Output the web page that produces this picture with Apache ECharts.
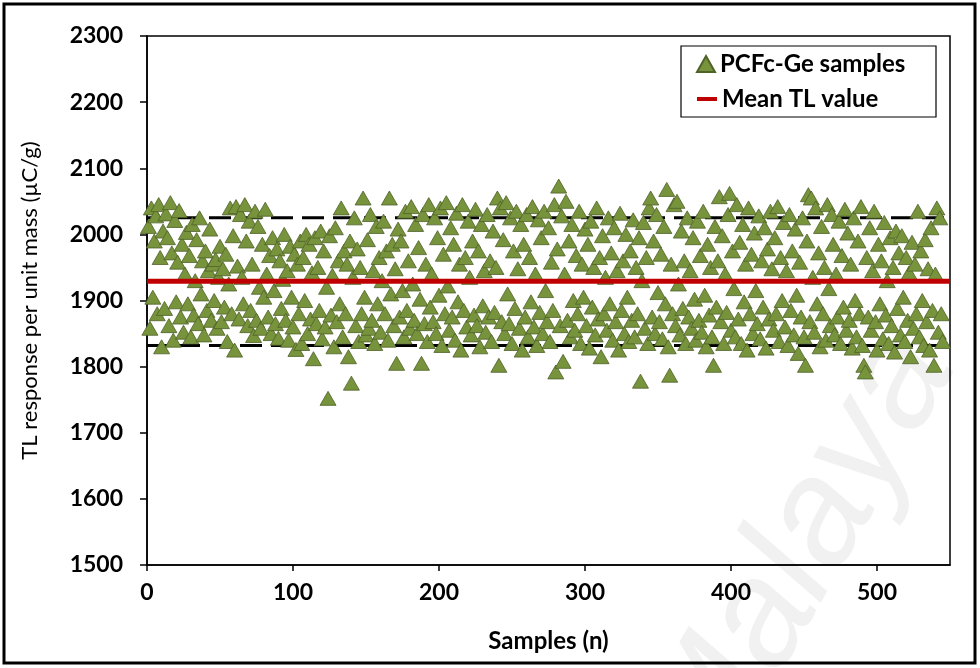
<!DOCTYPE html>
<html>
<head>
<meta charset="utf-8">
<script src="https://cdn.jsdelivr.net/npm/echarts@6/dist/echarts.min.js"></script>
<style>
  html, body { margin: 0; padding: 0; background: #fff; }
  #chart { width: 980px; height: 668px; }
</style>
</head>
<body>
<div id="chart"></div>
<script>
// TL response per sample (µC/g), samples 1..545
var tlValues = [
  2012, 1858, 2040, 1905, 1990, 2028, 1880, 2045, 1965, 1830, 2005, 1888, 2031, 1995, 1862,
  2048, 1972, 1840, 2021, 1898, 1958, 2036, 1875, 1985, 1852, 1940, 2003, 1895, 1968, 1845,
  2015, 1878, 1930, 1992, 1865, 2025, 1910, 1960, 1848, 1975, 1885, 1945, 2008, 1870, 1955,
  1900, 1962, 1858, 1935, 1982, 1868, 1948, 1890, 1970, 1838, 1925, 2040, 1880, 1998, 1825,
  2042, 1952, 1872, 2030, 1935, 1895, 2045, 1990, 1862, 2020, 1885, 1955, 1847, 2035, 1870,
  2012, 1920, 1858, 1985, 1905, 2038, 1940, 1875, 1968, 1850, 1995, 1915, 1865, 1978, 1843,
  1960, 1888, 1932, 2000, 1870, 1945, 1840, 1982, 1905, 1860, 1970, 1826, 1955, 1880, 1990,
  1835, 1965, 1900, 2000, 1850, 1985, 1872, 1942, 1812, 1995, 1865, 1950, 1885, 2005, 1842,
  1975, 1860, 1920, 1752, 1998, 1878, 1938, 1830, 2010, 1868, 1960, 1895, 2040, 1845, 1975,
  1880, 1955, 1815, 1990, 1775, 1935, 2025, 1862, 1978, 1838, 1950, 1880, 2055, 1905, 1848,
  1992, 1858, 2030, 1870, 1945, 1835, 2012, 1895, 1965, 1852, 1930, 2020, 1880, 1975, 1840,
  2055, 1910, 1985, 1862, 1948, 1805, 2008, 1875, 1990, 1915, 1845, 2035, 1885, 1960, 1858,
  2042, 1925, 1870, 2015, 1850, 1980, 1902, 1805, 2030, 1865, 1955, 1838, 2045, 1890, 1940,
  1868, 2025, 1850, 1995, 1908, 2040, 1832, 1970, 1880, 2048, 1922, 1855, 2010, 1875, 1985,
  1840, 2032, 1898, 1955, 1825, 2045, 1885, 1965, 1860, 2020, 1935, 1848, 1990, 1878, 2038,
  1862, 1975, 1830, 2015, 1892, 1945, 1852, 2030, 1875, 1960, 1838, 2005, 1882, 1950, 2055,
  1802, 2040, 1868, 1992, 1850, 2048, 1910, 1865, 2025, 1835, 1975, 1888, 2035, 1948, 1858,
  2015, 1825, 1985, 1875, 2030, 1845, 1965, 1898, 2042, 1860, 1940, 1832, 2022, 1882, 1995,
  1850, 2035, 1915, 1868, 2010, 1838, 1958, 1885, 2045, 1792, 1978, 2073, 1862, 2028, 1808,
  1940, 2050, 1870, 1990, 1845, 2015, 1900, 1855, 1968, 1880, 2035, 1835, 1955, 1905, 2008,
  1862, 1985, 1828, 2020, 1890, 1950, 1848, 2040, 1872, 1965, 1815, 1998, 1880, 1935, 1855,
  2025, 1895, 1972, 1840, 2010, 1868, 1945, 1825, 2032, 1885, 1960, 1850, 2000, 1905, 1838,
  1975, 1870, 2022, 1845, 1950, 1880, 1995, 1778, 1930, 2018, 1858, 1965, 1835, 2040, 2055,
  1875, 1990, 1850, 2030, 1912, 1868, 1970, 1842, 2012, 1895, 2068, 1830, 1787, 1955, 1880,
  2045, 1862, 2050, 1925, 1848, 2005, 1888, 1960, 1835, 2025, 1875, 1945, 1858, 1995, 1902,
  1840, 2020, 1870, 1968, 1852, 2035, 1908, 1830, 1985, 1878, 1950, 1845, 1802, 2012, 1890,
  1960, 2057, 1868, 1998, 1835, 1940, 1882, 2030, 2062, 1855, 1975, 1918, 1845, 2045, 1872,
  1988, 1835, 2015, 1898, 1955, 1825, 2040, 1880, 1970, 1850, 2002, 1915, 1865, 2028, 1842,
  1960, 1890, 2010, 1828, 1978, 1872, 2035, 1948, 1855, 1995, 1880, 2042, 1838, 1965, 1900,
  2018, 1860, 1945, 1832, 2030, 1885, 1975, 1848, 2008, 1908, 1820, 1958, 1875, 2025, 1845,
  1802, 1990, 2060, 1868, 2055, 1935, 1852, 2040, 1895, 1972, 1830, 2012, 1880, 1950, 1840,
  2045, 1918, 1862, 2030, 1985, 1848, 1940, 1875, 2020, 1835, 1968, 1890, 2038, 1855, 2002,
  1870, 1955, 1828, 2025, 1900, 1845, 1990, 1880, 2042, 1832, 1802, 1792, 1965, 1875, 2010,
  1855, 1945, 2035, 1868, 1825, 1985, 1895, 1960, 1842, 2018, 1878, 1930, 1835, 1995, 1862,
  1950, 1822, 2005, 1888, 1972, 1848, 1998, 1905, 1838, 1965, 1870, 1942, 1815, 1988, 1858,
  1955, 1880, 2035, 1845, 1975, 1900, 1832, 1992, 1868, 1948, 1825, 2010, 1885, 1802, 1940,
  2040, 1852, 2025, 1880, 1838
];

var meanValue = 1929;
var upperLimit = 2025;   // mean + 5%
var lowerLimit = 1832;   // mean - 5%
var xRange = [0, 550];
var yRange = [1500, 2300];

var samplePoints = tlValues.map(function (v, i) { return [i + 1, v]; });

var chart = echarts.init(document.getElementById('chart'));

var font = 'Lato, "Open Sans", sans-serif';
var legendText = { fontFamily: font, fontWeight: 'bold', fontSize: 24, color: '#000' };

chart.setOption({
  animation: false,
  backgroundColor: '#fff',
  grid: {
    left: 147, right: 30, top: 36, bottom: 103,
    show: true, borderColor: '#000', borderWidth: 1.5
  },
  // two legends so each icon can have its own size; the box is drawn in graphic
  legend: [
    {
      left: 696, top: 52, padding: 0,
      itemWidth: 18, itemHeight: 16, itemGap: 6,
      textStyle: legendText,
      data: [{ name: 'PCFc-Ge samples', icon: 'triangle' }]
    },
    {
      left: 697, top: 87, padding: 0,
      itemWidth: 20, itemHeight: 4, itemGap: 6,
      textStyle: legendText,
      data: [{ name: 'Mean TL value', icon: 'rect' }]
    }
  ],
  xAxis: {
    type: 'value',
    min: xRange[0], max: xRange[1], interval: 100,
    name: 'Samples (n)', nameLocation: 'middle', nameGap: 64,
    nameTextStyle: { fontFamily: font, fontWeight: 'bold', fontSize: 24, color: '#000' },
    splitLine: { show: false },
    axisLine: { lineStyle: { color: '#000', width: 1.5 } },
    axisTick: { inside: false, length: 6, lineStyle: { color: '#000', width: 1.5 } },
    axisLabel: {
      fontFamily: font, fontWeight: 'bold', fontSize: 23, color: '#000', margin: 16,
      showMaxLabel: false,
      formatter: function (v) { return v % 100 === 0 ? String(v) : ''; }
    }
  },
  yAxis: {
    type: 'value',
    min: yRange[0], max: yRange[1], interval: 100,
    name: 'TL response per unit mass (µC/g)', nameLocation: 'middle', nameGap: 106,
    nameTextStyle: { fontFamily: font, fontSize: 22, color: '#000' },
    splitLine: { show: false },
    axisLine: { show: true, lineStyle: { color: '#000', width: 1.5 } },
    axisTick: { show: true, inside: false, length: 7, lineStyle: { color: '#000', width: 1.5 } },
    axisLabel: {
      fontFamily: font, fontWeight: 'bold', fontSize: 23, color: '#000', margin: 24,
      formatter: function (v) { return String(v); }
    }
  },
  series: [
    {
      name: 'upper', type: 'line', symbol: 'none', silent: true, z: 1,
      lineStyle: { color: '#000', width: 3, type: [22, 9] },
      data: [[xRange[0], upperLimit], [xRange[1], upperLimit]]
    },
    {
      name: 'lower', type: 'line', symbol: 'none', silent: true, z: 1,
      lineStyle: { color: '#000', width: 3, type: [22, 9] },
      data: [[xRange[0], lowerLimit], [xRange[1], lowerLimit]]
    },
    {
      name: 'PCFc-Ge samples', type: 'scatter', z: 2,
      symbol: 'triangle', symbolSize: [16, 14],
      itemStyle: { color: '#77933C', borderColor: '#4F6228', borderWidth: 0.8, opacity: 1 },
      data: samplePoints
    },
    {
      name: 'Mean TL value', type: 'line', symbol: 'none', z: 3,
      lineStyle: { color: '#C00000', width: 5 },
      itemStyle: { color: '#C00000' },
      data: [[xRange[0], meanValue], [xRange[1], meanValue]]
    }
  ],
  graphic: [
    {
      type: 'rect', z: 99, silent: true,
      shape: { x: 681, y: 46, width: 255, height: 71 },
      style: { fill: 'none', stroke: '#000', lineWidth: 1.2 }
    },
    {
      type: 'rect', z: 100, silent: true,
      shape: { x: 4, y: 4, width: 971, height: 659 },
      style: { fill: 'none', stroke: '#000', lineWidth: 3 }
    },
    {
      type: 'text', z: -1, silent: true,
      x: 800, y: 555, rotation: 1.05,
      style: {
        text: 'Malaya', fill: '#f1f1f1',
        font: 'italic 150px "Liberation Sans", sans-serif',
        align: 'center', verticalAlign: 'middle'
      }
    }
  ]
});
</script>
</body>
</html>
